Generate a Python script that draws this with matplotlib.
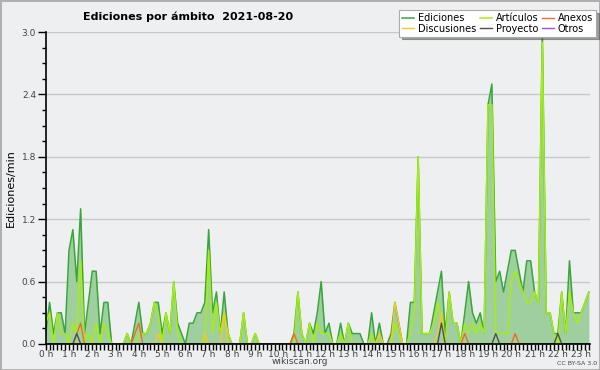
import numpy as np
import matplotlib
matplotlib.use("Agg")
import matplotlib.pyplot as plt
from matplotlib.ticker import MultipleLocator, FixedLocator

# 10-minute slots, edits per minute
ediciones = [0.1, 0.4, 0.1, 0.3, 0.3, 0.1, 0.9, 1.1, 0.6, 1.3,
             0.1, 0.4, 0.7, 0.7, 0.1, 0.4, 0.4, 0, 0, 0,
             0, 0.1, 0, 0.2, 0.4, 0.1, 0.1, 0.2, 0.4, 0.4,
             0.1, 0.3, 0.1, 0.6, 0.2, 0.1, 0, 0.2, 0.2, 0.3,
             0.3, 0.4, 1.1, 0.3, 0.5, 0.1, 0.5, 0.1, 0, 0,
             0, 0.3, 0, 0, 0.1, 0, 0, 0, 0, 0,
             0, 0, 0, 0, 0.1, 0.5, 0.1, 0, 0.2, 0.1,
             0.3, 0.6, 0.1, 0.2, 0, 0, 0.2, 0, 0.2, 0.1,
             0.1, 0.1, 0, 0, 0.3, 0, 0.2, 0, 0, 0.1,
             0.4, 0.2, 0, 0, 0.4, 0.4, 1.8, 0.1, 0.1, 0.1,
             0.3, 0.5, 0.7, 0.1, 0.5, 0.2, 0.2, 0, 0.3, 0.6,
             0.3, 0.2, 0.3, 0.1, 2.3, 2.5, 0.6, 0.7, 0.5, 0.7,
             0.9, 0.9, 0.7, 0.5, 0.8, 0.8, 0.5, 0.4, 3.0, 0.3,
             0.3, 0.1, 0.1, 0.5, 0.1, 0.8, 0.3, 0.3, 0.3, 0.4,
             0.5]
articulos = [0.2, 0.3, 0, 0.3, 0.1, 0.1, 0, 0.2, 0.1, 0.8,
             0, 0.1, 0, 0.2, 0, 0.2, 0.1, 0, 0, 0,
             0, 0.1, 0, 0, 0.1, 0.1, 0.1, 0.2, 0.4, 0.3,
             0, 0.3, 0.1, 0.6, 0.1, 0, 0, 0, 0, 0,
             0, 0, 0.9, 0.1, 0.4, 0.1, 0.3, 0.1, 0, 0,
             0, 0.3, 0, 0, 0.1, 0, 0, 0, 0, 0,
             0, 0, 0, 0, 0, 0.5, 0.1, 0, 0.2, 0,
             0.2, 0.1, 0.1, 0.1, 0, 0, 0.1, 0, 0.2, 0,
             0, 0, 0, 0, 0.1, 0, 0.1, 0, 0, 0,
             0.2, 0.1, 0, 0, 0.1, 0.3, 1.8, 0.1, 0.1, 0.1,
             0.2, 0.4, 0.2, 0, 0.5, 0.2, 0.2, 0, 0.2, 0.1,
             0.2, 0.1, 0.2, 0.1, 2.3, 2.3, 0.1, 0.1, 0.1, 0.1,
             0.6, 0.7, 0.6, 0.5, 0.4, 0.4, 0.5, 0.4, 2.9, 0.3,
             0.3, 0.1, 0, 0.5, 0.1, 0.5, 0.3, 0.2, 0.3, 0.4,
             0.5]
n = len(ediciones)
anexos = [0.0] * n
for k, v in {8: 0.1, 9: 0.2, 23: 0.1, 24: 0.2, 64: 0.1, 108: 0.1, 121: 0.1}.items():
    anexos[k] = v
discusiones = [0.0] * n
for k, v in {29: 0.1, 41: 0.1, 46: 0.3, 86: 0.1, 90: 0.4, 91: 0.2, 101: 0.1, 102: 0.3}.items():
    discusiones[k] = v
proyecto = [0.0] * n
for k, v in {8: 0.1, 102: 0.2, 116: 0.1, 132: 0.1}.items():
    proyecto[k] = v
otros = [0.0] * n

hour_labels = [f"{h} h" for h in range(24)]
y_ticks = [0.0, 0.6, 1.2, 1.8, 2.4, 3.0]

BG = "#eeeff1"
fig = plt.figure(figsize=(6, 3.7), dpi=100, facecolor=BG, edgecolor="#b0b0b0", linewidth=2)
ax = fig.add_axes([0.0762, 0.0703, 0.9072, 0.8432])
ax.set_facecolor(BG)

x = np.arange(n) / 6.0
ax.fill_between(x, ediciones, 0, color="#9fcf9f", zorder=1, linewidth=0)
l_ed, = ax.plot(x, ediciones, color="#3aa63a", lw=1.1, zorder=3)
l_ar, = ax.plot(x, articulos, color="#a6ee10", lw=1.1, zorder=3)
l_an, = ax.plot(x, anexos, color="#f06a2a", lw=1.0, zorder=4)
l_di, = ax.plot(x, discusiones, color="#f2c82a", lw=1.0, zorder=4)
l_pr, = ax.plot(x, proyecto, color="#505050", lw=1.0, zorder=4)
l_ot, = ax.plot(x, otros, color="#9a4ef0", lw=1.0, zorder=2)

ax.set_xlim(0, 140.3 / 6)
ax.set_ylim(0, 3.0)
for s in ["top", "right"]:
    ax.spines[s].set_visible(False)
for s in ["left", "bottom"]:
    ax.spines[s].set_color("black")
    ax.spines[s].set_linewidth(1.2)
    ax.spines[s].set_zorder(10)

ax.yaxis.set_major_locator(FixedLocator(y_ticks))
ax.set_yticklabels([f"{v:.1f}" for v in y_ticks])
ax.yaxis.set_minor_locator(MultipleLocator(0.15))
ax.xaxis.set_major_locator(FixedLocator(list(range(24))))
ax.set_xticklabels(hour_labels)
ax.xaxis.set_minor_locator(MultipleLocator(1 / 6))
ax.tick_params(axis="y", which="major", length=6, width=1, labelsize=6.5, labelcolor="#444444", pad=1)
ax.tick_params(axis="y", which="minor", length=3, width=1)
ax.tick_params(axis="x", which="both", length=4, width=1, labelsize=6.5, labelcolor="#444444", pad=0)
ax.grid(axis="y", which="major", color="#c8c8c8", lw=1, zorder=0)
ax.set_axisbelow(True)

ax.set_ylabel("Ediciones/min", fontsize=8, labelpad=4)
fig.text(0.313, 0.955, "Ediciones por ámbito  2021-08-20", ha="center", va="center",
         fontsize=8, fontweight="bold")
fig.text(0.5, 0.022, "wikiscan.org", ha="center", va="center", fontsize=6.5, color="#444444")
fig.text(0.995, 0.018, "CC BY-SA 3.0", ha="right", va="center", fontsize=4.5, color="#444444")

leg = fig.legend([l_ed, l_di, l_ar, l_pr, l_an, l_ot],
                 ["Ediciones", "Discusiones", "Artículos", "Proyecto", "Anexos", "Otros"],
                 ncol=3, loc="upper right", bbox_to_anchor=(0.993, 0.972),
                 fontsize=7, frameon=True, fancybox=False, shadow=True,
                 handlelength=1.2, handletextpad=0.4, columnspacing=0.4,
                 labelspacing=0.05, borderpad=0.3, borderaxespad=0)
leg.get_frame().set_edgecolor("#aaaaaa")
leg.get_frame().set_linewidth(0.8)

fig.savefig("out.png", dpi=100, facecolor=fig.get_facecolor(), edgecolor=fig.get_edgecolor())
